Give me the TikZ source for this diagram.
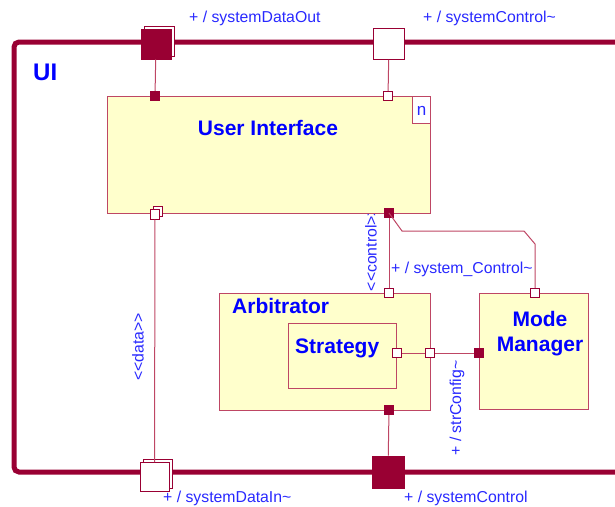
\documentclass[tikz,border=0pt]{standalone}
\usepackage{fontspec}
\setmainfont{Liberation Sans}
\definecolor{umlred}{RGB}{153,0,51}
\definecolor{umledge}{RGB}{190,70,100}
\definecolor{umlfill}{RGB}{255,255,204}
\definecolor{umlblue}{RGB}{0,0,255}
\definecolor{lblblue}{RGB}{40,40,255}
\begin{document}
\begin{tikzpicture}[x=1pt,y=-1pt,
  part/.style={draw=umledge, fill=umlfill, line width=1.2pt, inner sep=0, anchor=north west},
  portw/.style={draw=umlred, fill=white, line width=0.9pt, minimum size=9.5pt, inner sep=0},
  portf/.style={draw=umlred, fill=umlred, line width=0.9pt, minimum size=9.5pt, inner sep=0},
  bigw/.style={portw, minimum size=31pt},
  bigf/.style={portf, minimum size=31pt},
  shadowbox/.style={draw=umlred, fill=white, line width=0.9pt, inner sep=0},
  wire/.style={draw=umledge, line width=1pt},
  title/.style={font=\fontsize{21}{25}\selectfont\bfseries, text=umlblue, inner sep=0},
  lbl/.style={font=\fontsize{15.8}{18}\selectfont, text=lblblue, inner sep=0},
]
\useasboundingbox (0,0) rectangle (615,506);
\clip (0,0) rectangle (615,506);

% enclosing structured class frame
\draw[umlred, line width=5pt, rounded corners=5pt]
  (640,42) -- (14,42) -- (14,472) -- (640,472);
\node[title, font=\fontsize{24}{28}\selectfont\bfseries, anchor=west] (uilbl) at (33,72) {UI};

% stereotype of the control connector (its tip sits under the part above)
\node[lbl, rotate=90] (l6) at (371,249) {<{}<control>{}>};

% parts
\node[part, minimum width=323pt, minimum height=117pt] (ui) at (107,96) {};
\node[part, minimum width=18pt, minimum height=27pt, fill=white, anchor=north east] (mult) at (ui.north east) {};
\node[lbl, font=\fontsize{17}{18}\selectfont] (multlbl) at ([yshift=-1pt]mult.center) {n};
\node[title] (uititle) at (268,128) {User Interface};

\node[part, minimum width=211pt, minimum height=117pt] (arb) at (219,293) {};
\node[title, anchor=west] (arbtitle) at (232,306) {Arbitrator};
\node[part, minimum width=108pt, minimum height=65pt] (strat) at (288,323) {};
\node[title, anchor=west] (strattitle) at (295,348) {Strategy};

\node[part, minimum width=109pt, minimum height=116pt] (mm) at (479,293) {};
\node[title, align=center] (mmtitle) at (540,334) {Mode\\Manager};

% boundary ports with their shadows
\node[shadowbox, minimum size=30pt] (outsh) at (159,41) {};
\node[bigf, minimum size=30pt] (dataout) at (156,44) {};
\node[bigw] (ctrlout) at (389,44) {};
\node[shadowbox, minimum size=29pt] (insh) at (157.5,474) {};
\node[bigw, minimum size=29pt] (datain) at (154.5,477) {};
\node[bigf, minimum size=32pt] (ctrlin) at (388,472) {};

% ports on the parts
\node[portf] (uidout) at (155,96) {};
\node[portw] (uicin) at (388,96) {};
\node[shadowbox, minimum size=9.5pt] (uidinsh) at (158,211.5) {};
\node[portw] (uidin) at (155,214.5) {};
\node[portf] (uictrl) at (389,213) {};
\node[portw] (arbtop) at (389,293) {};
\node[portf] (arbbot) at (389,410) {};
\node[portw] (arbright) at (430,353) {};
\node[portw] (stratright) at (397,353) {};
\node[portf] (mmleft) at (479,353) {};
\node[portw] (mmtop) at (535,293) {};

% connectors
\draw[wire] (dataout) -- (uidout);
\draw[wire] (ctrlout) -- (uicin);
\draw[wire] (uidin) -- (datain);
\draw[wire] (uictrl) -- (arbtop);
\draw[wire] (uictrl.center) -- (402,231) -- (524,231) -- (535,244) -- (mmtop);
\draw[wire] (stratright) -- (arbright);
\draw[wire] (arbright) -- (mmleft);
\draw[wire] (arbbot) -- (ctrlin);

% port and connector labels
\node[lbl, anchor=west] (l1) at (189,18) {+ / systemDataOut};
\node[lbl, anchor=west] (l2) at (423,18) {+ / systemControl\textasciitilde};
\node[lbl, anchor=west] (l3) at (163,498) {+ / systemDataIn\textasciitilde};
\node[lbl, anchor=west] (l4) at (404,498) {+ / systemControl};
\node[lbl, anchor=west] (l5) at (391,269) {+ / system\_Control\textasciitilde};
\node[lbl, rotate=90] (l7) at (138,347) {<{}<data>{}>};
\node[lbl, rotate=90] (l8) at (457,408) {+ / strConfig\textasciitilde};
\end{tikzpicture}
\end{document}
